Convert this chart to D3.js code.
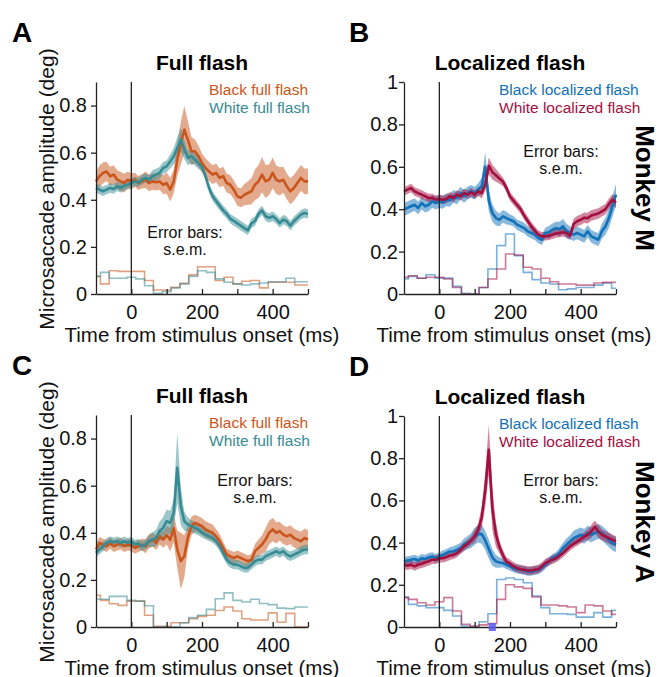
<!DOCTYPE html>
<html lang="en">
<head>
<meta charset="utf-8">
<script src="https://d3js.org/d3.v7.min.js"></script>
<style>
  body { margin: 0; background: #fff; }
  svg text { font-family: "Liberation Sans", Arial, sans-serif; }
</style>
</head>
<body>
<script>
// time grid of the traces (ms)
const timeMs = [-100,-90,-80,-70,-60,-50,-40,-30,-20,-10,
  0,10,20,30,40,50,60,70,80,90,
  100,110,120,130,140,150,160,170,180,190,
  200,210,220,230,240,250,260,270,280,290,
  300,310,320,330,340,350,360,370,380,390,
  400,410,420,430,440,450,460,470,480,490,500];
// histogram bin centres (ms), 25 ms bins
const histCenters = [-100,-75,-50,-25,0,25,50,75,100,125,150,175,200,225,250,275,300,325,350,375,400,425,450,475,500];

// ---- A: full flash, monkey M
const aBlackMean = [0.478,0.50,0.514,0.52,0.50,0.507,0.485,0.478,0.471,0.485,
  0.478,0.485,0.471,0.478,0.485,0.471,0.478,0.474,0.478,0.464,
  0.471,0.443,0.478,0.57,0.64,0.698,0.655,0.606,0.606,0.585,
  0.556,0.535,0.52,0.507,0.514,0.493,0.50,0.471,0.464,0.443,
  0.415,0.408,0.422,0.429,0.436,0.464,0.478,0.507,0.478,0.485,
  0.514,0.485,0.478,0.485,0.457,0.436,0.45,0.471,0.493,0.478,0.478];
const aBlackSem = [0.04,0.045,0.045,0.04,0.04,0.04,0.04,0.04,0.04,0.035,
  0.035,0.03,0.03,0.03,0.035,0.035,0.035,0.035,0.035,0.04,
  0.045,0.05,0.05,0.07,0.09,0.1,0.08,0.06,0.05,0.045,
  0.04,0.04,0.04,0.04,0.04,0.04,0.04,0.04,0.04,0.04,
  0.04,0.04,0.045,0.05,0.055,0.065,0.07,0.075,0.07,0.065,
  0.065,0.06,0.06,0.055,0.055,0.055,0.055,0.055,0.055,0.055,0.055];
const aWhiteMean = [0.45,0.443,0.436,0.443,0.45,0.446,0.457,0.45,0.46,0.464,
  0.471,0.478,0.474,0.485,0.493,0.485,0.50,0.507,0.514,0.535,
  0.542,0.563,0.585,0.62,0.655,0.613,0.577,0.585,0.57,0.556,
  0.54,0.50,0.45,0.415,0.395,0.375,0.355,0.34,0.32,0.31,
  0.30,0.29,0.28,0.27,0.30,0.31,0.34,0.355,0.33,0.323,
  0.33,0.318,0.301,0.316,0.309,0.29,0.309,0.323,0.337,0.344,0.34];
const aWhiteSem = [0.02,0.02,0.02,0.02,0.02,0.02,0.02,0.02,0.02,0.02,
  0.02,0.02,0.02,0.02,0.02,0.02,0.025,0.025,0.025,0.025,
  0.025,0.03,0.035,0.045,0.05,0.04,0.03,0.03,0.025,0.025,
  0.02,0.02,0.02,0.02,0.02,0.02,0.02,0.02,0.02,0.02,
  0.02,0.02,0.02,0.02,0.02,0.02,0.02,0.02,0.02,0.02,
  0.02,0.02,0.02,0.02,0.02,0.02,0.02,0.02,0.02,0.02,0.02];
const aBlackHist = [0.075,0.043,0.099,0.096,0.096,0.096,0.057,0.017,0.017,0.028,0.045,0.081,0.116,0.116,0.057,0.071,0.043,0.054,0.057,0.026,0.05,0.05,0.05,0.038,0.038];
const aWhiteHist = [0.075,0.092,0.067,0.067,0.071,0.064,0.035,0.003,0.01,0.026,0.043,0.075,0.099,0.092,0.064,0.05,0.043,0.038,0.043,0.047,0.052,0.052,0.067,0.052,0.052];

// ---- B: localized flash, monkey M
const bBlackMean = [0.398,0.406,0.414,0.421,0.406,0.429,0.414,0.421,0.437,0.429,
  0.437,0.432,0.445,0.442,0.461,0.453,0.476,0.461,0.476,0.484,
  0.476,0.492,0.508,0.60,0.44,0.382,0.358,0.35,0.366,0.358,
  0.35,0.343,0.327,0.319,0.311,0.296,0.288,0.28,0.264,0.256,
  0.288,0.291,0.303,0.311,0.306,0.319,0.296,0.288,0.28,0.288,
  0.28,0.272,0.296,0.272,0.264,0.256,0.296,0.319,0.358,0.414,0.469];
const bBlackSem = [0.03,0.03,0.03,0.03,0.03,0.03,0.03,0.03,0.03,0.03,
  0.03,0.03,0.03,0.03,0.03,0.03,0.03,0.03,0.03,0.03,
  0.03,0.03,0.04,0.07,0.05,0.04,0.035,0.03,0.03,0.03,
  0.025,0.025,0.025,0.025,0.025,0.025,0.025,0.025,0.025,0.025,
  0.025,0.03,0.03,0.03,0.035,0.035,0.035,0.03,0.03,0.03,
  0.03,0.03,0.03,0.03,0.03,0.03,0.035,0.04,0.045,0.05,0.05];
const bWhiteMean = [0.484,0.492,0.50,0.484,0.476,0.469,0.461,0.453,0.453,0.445,
  0.448,0.445,0.448,0.461,0.453,0.469,0.461,0.476,0.469,0.48,
  0.469,0.484,0.476,0.516,0.605,0.575,0.56,0.545,0.53,0.50,
  0.46,0.44,0.42,0.40,0.37,0.345,0.32,0.30,0.28,0.272,
  0.272,0.275,0.28,0.285,0.288,0.291,0.288,0.275,0.33,0.343,
  0.35,0.36,0.358,0.37,0.375,0.38,0.39,0.40,0.425,0.445,0.43];
const bWhiteSem = [0.02,0.02,0.02,0.02,0.02,0.02,0.02,0.02,0.02,0.02,
  0.02,0.02,0.02,0.02,0.02,0.02,0.02,0.02,0.02,0.02,
  0.02,0.02,0.025,0.03,0.04,0.035,0.03,0.025,0.02,0.02,
  0.02,0.02,0.02,0.02,0.02,0.02,0.02,0.02,0.02,0.02,
  0.02,0.02,0.02,0.02,0.02,0.02,0.02,0.02,0.025,0.025,
  0.025,0.025,0.025,0.025,0.025,0.025,0.025,0.025,0.025,0.025,0.025];
const bBlackHist = [0.071,0.083,0.074,0.091,0.075,0.075,0.036,0.003,0.0,0.031,0.118,0.228,0.283,0.181,0.102,0.068,0.052,0.047,0.02,0.024,0.031,0.031,0.042,0.052,0.027];
const bWhiteHist = [0.079,0.086,0.074,0.079,0.079,0.071,0.031,0.0,0.0,0.031,0.071,0.118,0.189,0.184,0.126,0.118,0.074,0.058,0.047,0.047,0.042,0.042,0.052,0.055,0.055];

// ---- C: full flash, monkey A
const cBlackMean = [0.329,0.357,0.35,0.343,0.357,0.343,0.35,0.354,0.343,0.35,
  0.346,0.336,0.343,0.35,0.343,0.364,0.371,0.357,0.385,0.371,
  0.39,0.37,0.42,0.33,0.28,0.30,0.38,0.428,0.442,0.435,
  0.428,0.414,0.407,0.40,0.385,0.364,0.336,0.307,0.30,0.293,
  0.30,0.293,0.286,0.279,0.286,0.322,0.336,0.35,0.371,0.40,
  0.414,0.40,0.407,0.392,0.385,0.392,0.378,0.371,0.364,0.378,0.371];
const cBlackSem = [0.025,0.025,0.025,0.025,0.025,0.025,0.025,0.025,0.025,0.025,
  0.025,0.025,0.025,0.025,0.03,0.03,0.03,0.03,0.035,0.035,
  0.04,0.05,0.06,0.08,0.12,0.09,0.05,0.04,0.035,0.035,
  0.035,0.035,0.035,0.035,0.03,0.03,0.025,0.025,0.025,0.025,
  0.025,0.025,0.025,0.025,0.025,0.03,0.035,0.04,0.05,0.05,
  0.05,0.045,0.04,0.04,0.04,0.04,0.04,0.04,0.04,0.04,0.04];
const cWhiteMean = [0.314,0.329,0.343,0.357,0.364,0.36,0.364,0.357,0.364,0.357,
  0.364,0.35,0.354,0.343,0.35,0.364,0.371,0.378,0.407,0.421,
  0.449,0.442,0.484,0.676,0.513,0.449,0.435,0.428,0.421,0.414,
  0.40,0.392,0.385,0.378,0.364,0.343,0.314,0.286,0.272,0.265,
  0.265,0.258,0.251,0.251,0.265,0.279,0.286,0.286,0.30,0.307,
  0.314,0.322,0.314,0.322,0.307,0.30,0.307,0.314,0.322,0.329,0.329];
const cWhiteSem = [0.02,0.02,0.02,0.02,0.02,0.02,0.02,0.02,0.02,0.02,
  0.02,0.02,0.02,0.02,0.02,0.025,0.03,0.035,0.04,0.045,
  0.05,0.05,0.06,0.15,0.08,0.04,0.03,0.025,0.025,0.025,
  0.02,0.02,0.02,0.02,0.02,0.02,0.02,0.02,0.02,0.02,
  0.02,0.02,0.02,0.02,0.02,0.02,0.02,0.02,0.02,0.02,
  0.02,0.02,0.02,0.02,0.02,0.02,0.02,0.02,0.02,0.02,0.02];
const cBlackHist = [0.135,0.113,0.099,0.092,0.11,0.11,0.05,0.003,0.003,0.018,0.018,0.035,0.045,0.05,0.07,0.085,0.068,0.035,0.03,0.03,0.06,0.02,0.058,0.0,0.0];
const cWhiteHist = [0.118,0.118,0.13,0.13,0.113,0.11,0.09,0.0,0.0,0.0,0.018,0.04,0.05,0.075,0.12,0.145,0.113,0.106,0.118,0.1,0.095,0.08,0.078,0.085,0.085];

// ---- D: localized flash, monkey A
const dBlackMean = [0.311,0.315,0.319,0.322,0.315,0.326,0.322,0.331,0.334,0.326,
  0.334,0.342,0.35,0.358,0.358,0.366,0.374,0.39,0.40,0.41,
  0.43,0.44,0.44,0.41,0.37,0.33,0.311,0.306,0.303,0.295,
  0.287,0.279,0.274,0.271,0.268,0.263,0.263,0.268,0.271,0.279,
  0.295,0.311,0.326,0.334,0.35,0.374,0.39,0.405,0.421,0.429,
  0.437,0.429,0.445,0.437,0.445,0.453,0.445,0.429,0.413,0.397,0.39];
const dBlackSem = [0.02,0.02,0.02,0.02,0.02,0.02,0.02,0.02,0.02,0.02,
  0.02,0.02,0.02,0.02,0.025,0.025,0.025,0.03,0.03,0.035,
  0.04,0.04,0.045,0.045,0.045,0.04,0.03,0.025,0.02,0.02,
  0.02,0.02,0.02,0.02,0.02,0.02,0.02,0.02,0.02,0.02,
  0.02,0.02,0.02,0.02,0.025,0.025,0.03,0.03,0.035,0.035,
  0.035,0.035,0.035,0.035,0.035,0.035,0.035,0.035,0.035,0.035,0.035];
const dWhiteMean = [0.295,0.29,0.295,0.287,0.295,0.30,0.306,0.311,0.319,0.319,
  0.326,0.326,0.331,0.338,0.342,0.35,0.366,0.382,0.395,0.41,
  0.43,0.46,0.52,0.65,0.84,0.56,0.44,0.38,0.34,0.31,
  0.30,0.287,0.279,0.274,0.271,0.268,0.268,0.271,0.274,0.287,
  0.303,0.311,0.319,0.326,0.338,0.35,0.366,0.382,0.394,0.405,
  0.416,0.429,0.437,0.453,0.475,0.453,0.437,0.429,0.421,0.413,0.405];
const dWhiteSem = [0.02,0.02,0.02,0.02,0.02,0.02,0.02,0.02,0.02,0.02,
  0.02,0.02,0.02,0.02,0.02,0.02,0.02,0.02,0.02,0.02,
  0.03,0.03,0.05,0.08,0.12,0.1,0.06,0.03,0.025,0.02,
  0.02,0.02,0.02,0.02,0.02,0.02,0.02,0.02,0.02,0.02,
  0.02,0.02,0.02,0.02,0.02,0.02,0.02,0.02,0.02,0.02,
  0.02,0.02,0.025,0.03,0.03,0.03,0.025,0.025,0.025,0.025,0.025];
const dBlackHist = [0.142,0.107,0.1,0.092,0.092,0.079,0.052,0.005,0.0,0.025,0.063,0.225,0.232,0.225,0.21,0.147,0.092,0.063,0.063,0.06,0.047,0.047,0.068,0.047,0.079];
const dWhiteHist = [0.139,0.131,0.115,0.104,0.12,0.139,0.076,0.013,0.005,0.01,0.016,0.131,0.2,0.19,0.183,0.142,0.104,0.104,0.1,0.095,0.068,0.104,0.1,0.076,0.06];

const xTicks = [0,100,200,300,400,500];
const xTickLabels = [0,200,400];
const yTicksFull = [0,0.2,0.4,0.6,0.8];
const yTicksLocal = [0,0.2,0.4,0.6,0.8,1];
const markerTimeD = 150;   // small square on the D time axis

const orange = "#c9561c", teal = "#368b94", blue = "#1171b9", crimson = "#a3103f";

const panels = [
  {letter:"A", title:"Full flash", left:96, right:308, top:82, bottom:294, yMax:0.9, yTicks:yTicksFull, pad:4,
   s:[{name:"Black full flash", mean:aBlackMean, sem:aBlackSem, hist:aBlackHist, color:orange},
      {name:"White full flash", mean:aWhiteMean, sem:aWhiteSem, hist:aWhiteHist, color:teal}],
   legX:209, errX:185, errY:238, xlabX:202, ylab:true},
  {letter:"B", title:"Localized flash", left:404, right:616, top:82, bottom:294, yMax:1, yTicks:yTicksLocal, pad:1,
   s:[{name:"Black localized flash", mean:bBlackMean, sem:bBlackSem, hist:bBlackHist, color:blue},
      {name:"White localized flash", mean:bWhiteMean, sem:bWhiteSem, hist:bWhiteHist, color:crimson}],
   legX:499, errX:561, errY:157, xlabX:514, monkey:"Monkey M"},
  {letter:"C", title:"Full flash", left:96, right:308, top:415, bottom:627, yMax:0.9, yTicks:yTicksFull, pad:4,
   s:[{name:"Black full flash", mean:cBlackMean, sem:cBlackSem, hist:cBlackHist, color:orange},
      {name:"White full flash", mean:cWhiteMean, sem:cWhiteSem, hist:cWhiteHist, color:teal}],
   legX:209, errX:255, errY:486, xlabX:202, ylab:true},
  {letter:"D", title:"Localized flash", left:404, right:616, top:416, bottom:627, yMax:1, yTicks:yTicksLocal, pad:1,
   s:[{name:"Black localized flash", mean:dBlackMean, sem:dBlackSem, hist:dBlackHist, color:blue},
      {name:"White localized flash", mean:dWhiteMean, sem:dWhiteSem, hist:dWhiteHist, color:crimson}],
   legX:499, errX:561, errY:486, xlabX:514, monkey:"Monkey A", marker:markerTimeD}
];

const svg = d3.select("body").append("svg")
  .attr("width", 659).attr("height", 677);

function drawPanel(p) {
  const g = svg.append("g");
  const x = d3.scaleLinear().domain([-100, 500]).range([p.left, p.right]);
  const y = d3.scaleLinear().domain([0, p.yMax]).range([p.bottom, p.top]);

  // histograms (step lines, clipped to the time window)
  p.s.forEach(s => {
    const pts = [];
    histCenters.forEach((c, i) => {
      const lo = Math.max(-100, c - 12.5), hi = Math.min(500, c + 12.5);
      pts.push([lo, s.hist[i]], [hi, s.hist[i]]);
    });
    g.append("path")
      .datum(pts)
      .attr("fill", "none")
      .attr("stroke", s.color)
      .attr("stroke-opacity", 0.55)
      .attr("stroke-width", 1.6)
      .attr("d", d3.line().x(d => x(d[0])).y(d => y(d[1])));
  });

  // s.e.m. bands
  p.s.forEach(s => {
    g.append("path")
      .datum(timeMs.map((t, i) => ({t: t, m: s.mean[i], e: s.sem[i]})))
      .attr("fill", s.color)
      .attr("fill-opacity", 0.5)
      .attr("d", d3.area().x(d => x(d.t)).y0(d => y(d.m - d.e)).y1(d => y(d.m + d.e)));
  });
  // mean lines
  p.s.forEach(s => {
    g.append("path")
      .datum(timeMs.map((t, i) => ({t: t, m: s.mean[i]})))
      .attr("fill", "none")
      .attr("stroke", s.color)
      .attr("stroke-width", 2.6)
      .attr("stroke-linejoin", "round")
      .attr("d", d3.line().x(d => x(d.t)).y(d => y(d.m)));
  });

  // stimulus onset line
  g.append("line")
    .attr("x1", x(0)).attr("x2", x(0))
    .attr("y1", y(0)).attr("y2", y(p.yMax))
    .attr("stroke", "#222").attr("stroke-width", 1.3);

  // X Axis (ticks pointing inwards)
  const xa = g.append("g")
    .attr("transform", "translate(0," + p.bottom + ")")
    .call(d3.axisBottom(x).tickValues(xTicks).tickSizeInner(-5).tickSizeOuter(0).tickPadding(10.5)
      .tickFormat(d => xTickLabels.includes(d) ? d : ""));
  // Y Axis
  const ya = g.append("g")
    .attr("transform", "translate(" + p.left + ",0)")
    .call(d3.axisLeft(y).tickValues(p.yTicks).tickSize(5).tickSizeOuter(0).tickPadding(p.pad)
      .tickFormat(d => String(d)));
  [xa, ya].forEach(a => {
    a.attr("font-size", 20).attr("font-family", "Liberation Sans, Arial, sans-serif");
    a.selectAll("path, line").attr("stroke", "#222").attr("stroke-width", 1.3);
    a.selectAll("text").attr("fill", "#111");
  });

  // marker square on the time axis
  if (p.marker !== undefined) {
    g.append("rect")
      .attr("x", x(p.marker - 10)).attr("y", p.bottom - 4)
      .attr("width", x(p.marker + 10) - x(p.marker - 10)).attr("height", 8)
      .attr("fill", "#5a5af0").attr("fill-opacity", 0.85);
  }

  // texts
  g.append("text").text(p.letter)
    .attr("x", p.left < 200 ? 12 : 349).attr("y", p.top - 40)
    .attr("font-size", 28).attr("font-weight", "bold");
  g.append("text").text(p.title)
    .attr("x", (p.left + p.right) / 2).attr("y", p.top - 12)
    .attr("text-anchor", "middle").attr("font-size", 21).attr("font-weight", "bold");
  p.s.forEach((s, i) => {
    g.append("text").text(s.name)
      .attr("x", p.legX).attr("y", p.top + 13 + i * 18)
      .attr("fill", s.color).attr("font-size", 15.5);
  });
  g.append("text").text("Error bars:")
    .attr("x", p.errX).attr("y", p.errY)
    .attr("text-anchor", "middle").attr("font-size", 16).attr("fill", "#111");
  g.append("text").text("s.e.m.")
    .attr("x", p.errX).attr("y", p.errY + 17)
    .attr("text-anchor", "middle").attr("font-size", 16).attr("fill", "#111");
  g.append("text").text("Time from stimulus onset (ms)")
    .attr("x", p.xlabX).attr("y", p.bottom + 47.5)
    .attr("text-anchor", "middle").attr("font-size", 20.5).attr("fill", "#111");
  if (p.ylab) {
    g.append("text").text("Microsaccade amplitude (deg)")
      .attr("transform", "translate(54," + (p.top + 107) + ") rotate(-90)")
      .attr("text-anchor", "middle").attr("font-size", 21).attr("fill", "#111");
  }
  if (p.monkey) {
    g.append("text").text(p.monkey)
      .attr("transform", "translate(636," + (p.top + 106) + ") rotate(90)")
      .attr("text-anchor", "middle").attr("font-size", 26).attr("font-weight", "bold");
  }
}

panels.forEach(drawPanel);
</script>
</body>
</html>
